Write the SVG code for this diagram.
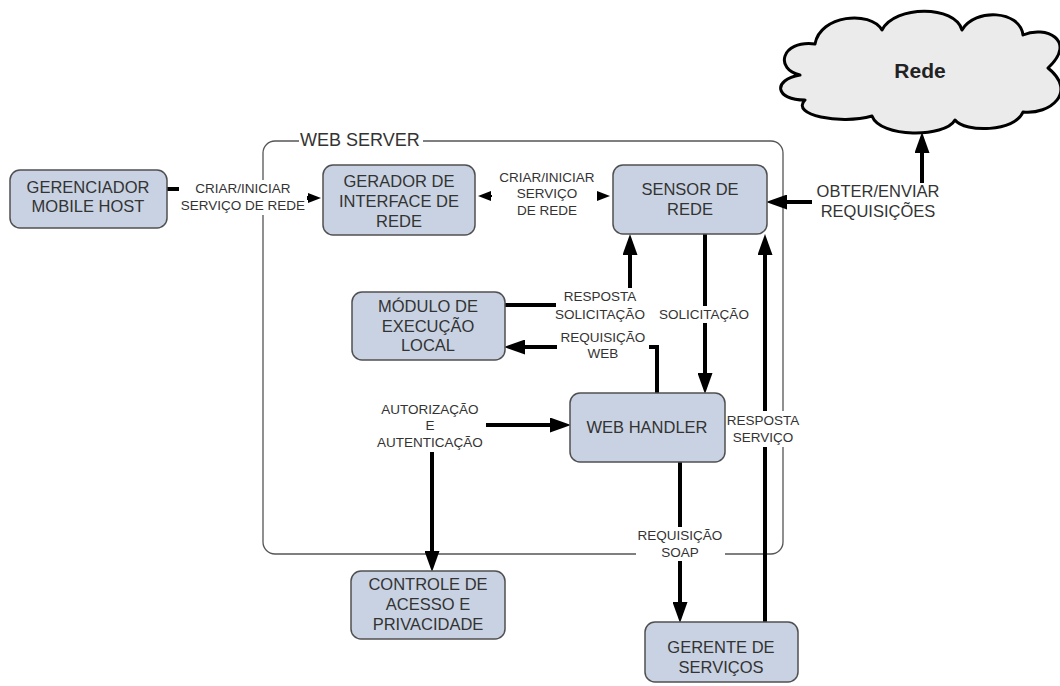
<svg xmlns="http://www.w3.org/2000/svg" width="1060" height="686" viewBox="0 0 1060 686">
<style>
.box{fill:#c8d2e2;stroke:#505050;stroke-width:1.5}
.nt{font-family:"Liberation Sans",Arial,sans-serif;font-size:16.5px;fill:#333;text-anchor:middle}
.lt{font-family:"Liberation Sans",Arial,sans-serif;font-size:13.5px;fill:#333;text-anchor:middle}
.bg{fill:#fff;stroke:none}
.thick{fill:none;stroke:#000;stroke-width:4}
.thin{fill:none;stroke:#000;stroke-width:2}
</style>
<defs>
<marker id="big" markerUnits="userSpaceOnUse" markerWidth="21" markerHeight="15" viewBox="0 0 21 15" refX="10" refY="7.5" orient="auto-start-reverse">
<path d="M0,0 L21,7.5 L0,15 Z" fill="#000"/>
</marker>
<marker id="small" markerUnits="userSpaceOnUse" markerWidth="13" markerHeight="10" viewBox="0 0 13 10" refX="1" refY="5" orient="auto-start-reverse">
<path d="M0,0 L13,5 L0,10 Z" fill="#000"/>
</marker>
</defs>
<rect width="1060" height="686" fill="#fff"/>

<g id="web-server">
<rect x="263" y="141" width="520" height="413" rx="12" fill="none" stroke="#555" stroke-width="1.3"/>
<rect class="bg" x="299" y="131" width="124" height="20"/>
<text x="300" y="146" font-family="'Liberation Sans',Arial,sans-serif" font-size="18" fill="#333">WEB SERVER</text>
</g>

<g id="rede">
<path d="M800,75 C775,70 780,40 815,44 C820,15 870,10 882,30 C895,5 955,5 962,30 C975,8 1020,10 1023,35 C1045,25 1078,40 1048,68 C1078,92 1050,115 1023,112 C1015,132 965,133 955,120 C945,138 880,138 872,116 C840,125 790,115 805,100 C775,100 772,80 800,75 Z" fill="#ebebeb" stroke="#000" stroke-width="3" stroke-linejoin="round"/>
<text x="920" y="78" font-family="'Liberation Sans',Arial,sans-serif" font-size="21" font-weight="bold" fill="#222" text-anchor="middle">Rede</text>
</g>

<g id="connectors">
<path class="thick" d="M167,189 H245 V198 H309" marker-end="url(#small)"/>
<path class="thin" d="M490,196 H598" marker-start="url(#small)" marker-end="url(#small)"/>
<path class="thick" d="M777,202 H922 V143" marker-start="url(#big)" marker-end="url(#big)"/>
<path class="thick" d="M505,305 H630 V245" marker-end="url(#big)"/>
<path class="thick" d="M705,234 V383" marker-end="url(#big)"/>
<path class="thick" d="M657,393 V347 H515" marker-end="url(#big)"/>
<path class="thick" d="M432,561 V425 H560" marker-start="url(#big)" marker-end="url(#big)"/>
<path class="thick" d="M680,462 V612" marker-end="url(#big)"/>
<path class="thick" d="M765,622 V245" marker-end="url(#big)"/>

<rect class="bg" x="179" y="180" width="128" height="35"/>
<text class="lt" x="243" y="193">CRIAR/INICIAR</text>
<text class="lt" x="243" y="210">SERVIÇO DE REDE</text>

<rect class="bg" x="492" y="168" width="105" height="52"/>
<text class="lt" x="547" y="182">CRIAR/INICIAR</text>
<text class="lt" x="547" y="198">SERVIÇO</text>
<text class="lt" x="547" y="215">DE REDE</text>

<rect class="bg" x="812" y="183" width="132" height="39"/>
<text class="nt" x="878" y="197">OBTER/ENVIAR</text>
<text class="nt" x="878" y="217">REQUISIÇÕES</text>

<rect class="bg" x="556" y="288" width="90" height="35"/>
<text class="lt" x="600" y="301">RESPOSTA</text>
<text class="lt" x="600" y="319">SOLICITAÇÃO</text>

<rect class="bg" x="659" y="306" width="91" height="17"/>
<text class="lt" x="704" y="319">SOLICITAÇÃO</text>

<rect class="bg" x="557" y="328" width="92" height="34"/>
<text class="lt" x="603" y="342">REQUISIÇÃO</text>
<text class="lt" x="603" y="358">WEB</text>

<rect class="bg" x="374" y="400" width="112" height="52"/>
<text class="lt" x="430" y="414">AUTORIZAÇÃO</text>
<text class="lt" x="430" y="430">E</text>
<text class="lt" x="430" y="447">AUTENTICAÇÃO</text>

<rect class="bg" x="724" y="411" width="78" height="36"/>
<text class="lt" x="763" y="425">RESPOSTA</text>
<text class="lt" x="763" y="442">SERVIÇO</text>

<rect class="bg" x="636" y="527" width="89" height="34"/>
<text class="lt" x="680" y="540">REQUISIÇÃO</text>
<text class="lt" x="680" y="557">SOAP</text>
</g>

<g id="gerenciador">
<rect class="box" x="10" y="170" width="157" height="58" rx="10"/>
<text class="nt" x="88" y="193">GERENCIADOR</text>
<text class="nt" x="88" y="212">MOBILE HOST</text>
</g>

<g id="gerador">
<rect class="box" x="323" y="165" width="152" height="70" rx="10"/>
<text class="nt" x="399" y="187">GERADOR DE</text>
<text class="nt" x="399" y="207">INTERFACE DE</text>
<text class="nt" x="399" y="227">REDE</text>
</g>

<g id="sensor">
<rect class="box" x="613" y="165" width="154" height="69" rx="10"/>
<text class="nt" x="690" y="195">SENSOR DE</text>
<text class="nt" x="690" y="215">REDE</text>
</g>

<g id="modulo">
<rect class="box" x="352" y="292" width="153" height="68" rx="10"/>
<text class="nt" x="428" y="312">MÓDULO DE</text>
<text class="nt" x="428" y="332">EXECUÇÃO</text>
<text class="nt" x="428" y="351">LOCAL</text>
</g>

<g id="web-handler">
<rect class="box" x="570" y="393" width="155" height="69" rx="10"/>
<text class="nt" x="647" y="433">WEB HANDLER</text>
</g>

<g id="controle">
<rect class="box" x="351" y="571" width="154" height="68" rx="10"/>
<text class="nt" x="428" y="590">CONTROLE DE</text>
<text class="nt" x="428" y="610">ACESSO E</text>
<text class="nt" x="428" y="630">PRIVACIDADE</text>
</g>

<g id="gerente">
<rect class="box" x="645" y="622" width="153" height="60" rx="10"/>
<text class="nt" x="721" y="653">GERENTE DE</text>
<text class="nt" x="721" y="673">SERVIÇOS</text>
</g>
</svg>
